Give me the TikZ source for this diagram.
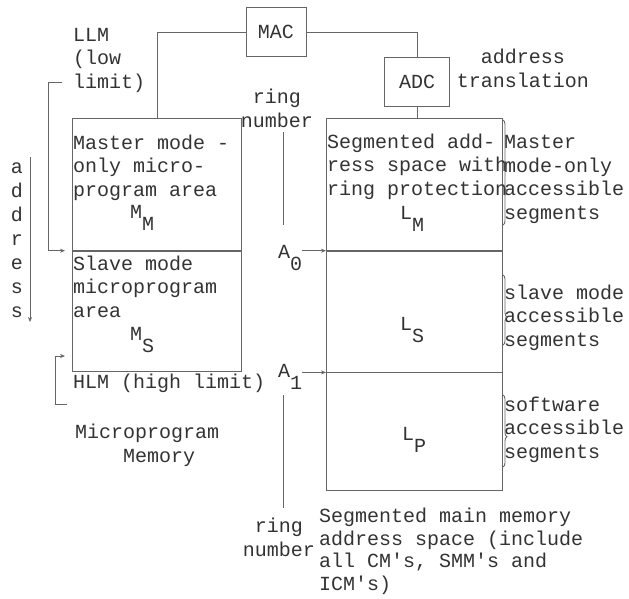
\documentclass[tikz,border=0pt]{standalone}
\usepackage{fontspec}
\setmonofont{Liberation Mono}
\usetikzlibrary{positioning, calc, arrows.meta, decorations.pathreplacing}

% lowered index, typewriter style
\newcommand{\lo}[1]{\raisebox{-12pt}{#1}}

\begin{document}
\begin{tikzpicture}[
    x=1pt, y=-1pt,
    >={Stealth[length=5pt, width=4pt]},
    font=\ttfamily\fontsize{20}{23.5}\selectfont,
    wire/.style={black!60, line width=0.7pt},
    membox/.style={draw=black!60, line width=0.7pt, inner sep=0pt, anchor=north west},
    unitbox/.style={draw=black!60, line width=0.7pt, text=black!80, minimum width=60, minimum height=49},
    txt/.style={text=black!80, inner sep=0pt, anchor=base west, align=left},
    ctxt/.style={text=black!80, inner sep=0pt, anchor=base, align=center},
    segbrace/.style={decorate, decoration={brace, amplitude=4pt, aspect=#1}, black!60, line width=0.9pt}
]
    \useasboundingbox (0,0) rectangle (629,598);

    % ======================================================================
    % Steuereinheiten
    % ======================================================================
    \node[unitbox] (mac) at (276,32) {MAC};
    \node[unitbox, minimum width=65] (adc) at (417,82) {ADC};
    \node[ctxt] (atr) at (523,87) {address\\translation};

    % ======================================================================
    % Mikroprogramm-Speicher
    % ======================================================================
    \node[membox, minimum width=169, minimum height=132] (mmup) at (72,118) {};
    \node[membox, minimum width=169, minimum height=120, anchor=north] (mmlow) at (mmup.south) {};

    % (base = letzte Zeile)
    \node[txt] (mmtxt) at (73,196) {Master mode -\\only micro-\\program area};
    \node[txt] (mmlab) at (130,218) {M\lo{M}};
    \node[txt] (mstxt) at (73,317) {Slave mode\\microprogram\\area};
    \node[txt] (mslab) at (130,340) {M\lo{S}};

    \node[txt] (llm) at (73,88) {LLM\\(low\\limit)};
    \node[txt] (hlm) at (73,388) {HLM (high limit)};
    \node[txt] (mpm) at (75,462) {Microprogram\\\hphantom{Micr}Memory};

    % address-Pfeil
    \node[ctxt, font=\ttfamily\fontsize{20}{24}\selectfont] (addr) at (17,317) {a\\d\\d\\r\\e\\s\\s};
    \coordinate (addrtop) at (30,157);
    \coordinate (addrend) at (30,322);
    \draw[wire, ->] (addrtop) -- (addrend);

    % Grenzen LLM / HLM
    \coordinate (llmend) at (62,82);
    \draw[wire, ->, shorten >=7pt] (llmend) -- ++(-14,0) |- (mmup.south west);
    \coordinate (hlmend) at (67,404);
    \draw[wire, ->] (hlmend) -- ++(-12,0) -- ++(0,-48) -- ++(10,0);

    % ======================================================================
    % Segmentierter Adressraum
    % ======================================================================
    \node[membox, minimum width=176, minimum height=132] (lm) at (326,118) {};
    \node[membox, minimum width=176, minimum height=121, anchor=north] (ls) at (lm.south) {};
    \node[membox, minimum width=176, minimum height=118, anchor=north] (lp) at (ls.south) {};

    \node[txt] (lmtxt) at (327,195) {Segmented add-\\ress space with\\ring protection};
    \node[txt] (lmlab) at (400,219) {L\lo{M}};
    \node[txt] (lslab) at (400,330) {L\lo{S}};
    \node[txt] (lplab) at (402,440) {L\lo{P}};

    \node[txt] (mseg) at (504,219) {Master\\mode-only\\accessible\\segments};
    \node[txt] (sseg) at (504,346) {slave mode\\accessible\\segments};
    \node[txt] (pseg) at (504,458) {software\\accessible\\segments};

    \draw[segbrace=0.68] (503,120) -- (503,225);
    \draw[segbrace=0.6] (503,275) -- (503,345);
    \draw[segbrace=0.58] (503,395) -- (503,467);

    \node[txt, font=\ttfamily\fontsize{20}{22.5}\selectfont] (smm) at (319,590) {Segmented main memory\\address space (include\\all CM's, SMM's and\\ICM's)};

    % ======================================================================
    % Verbindungen und Ringnummern
    % ======================================================================
    \draw[wire] (mac.east) -| (adc.north);
    \draw[wire] (mac.west) -| (mmup.north);
    \draw[wire] (adc.south) -- (adc.south |- lm.north);

    \node[ctxt] (ringtop) at (277,127) {ring\\number};
    \coordinate (rtstart) at (283,132);
    \coordinate (rtend) at (283,225);
    \draw[wire] (rtstart) -- (rtend);

    \node[txt] (a0) at (278,258) {A\lo{0}};
    \node[txt] (a1) at (278,377) {A\lo{1}};
    \draw[wire, ->] (a0.east |- ls.north west) -- (ls.north west);
    \draw[wire, ->] (a1.east |- lp.north west) -- (lp.north west);

    \node[ctxt] (ringbot) at (279,556) {ring\\number};
    \coordinate (rbstart) at (283,395);
    \coordinate (rbend) at (283,508);
    \draw[wire] (rbstart) -- (rbend);

\end{tikzpicture}
\end{document}
